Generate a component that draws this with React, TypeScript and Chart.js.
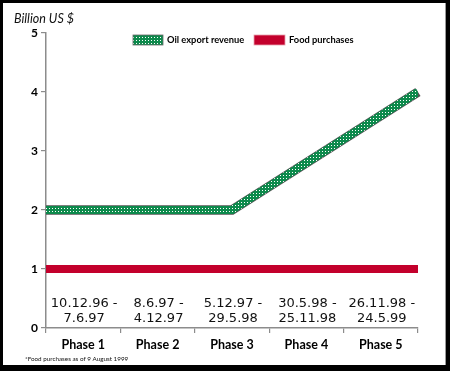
import React, { useEffect, useRef } from "react";
import { Chart, registerables } from "chart.js";

Chart.register(...registerables);

// ---- data ----
const phases = ["Phase 1", "Phase 2", "Phase 3", "Phase 4", "Phase 5"];
const periodStart = ["10.12.96 -", "8.6.97 -", "5.12.97 -", "30.5.98 -", "26.11.98 -"];
const periodEnd = ["7.6.97", "4.12.97", "29.5.98", "25.11.98", "24.5.99"];
const oilX = [0, 2.5, 5];
const oilValues = [2, 2, 4];
const foodX = [0, 5];
const foodValues = [1, 1];
const seriesLabels = ["Oil export revenue", "Food purchases"];
const yAxisTitle = "Billion US $";
const footnote = "*Food purchases as of 9 August 1999";

const GREEN = "#0d8a4c";
const RED = "#c3002c";
const AXIS = "#8c8c8c";

function makePattern(): CanvasPattern | string {
  const c = document.createElement("canvas");
  c.width = 3;
  c.height = 3;
  const g = c.getContext("2d");
  if (!g) return GREEN;
  g.fillStyle = GREEN;
  g.fillRect(0, 0, 3, 3);
  g.fillStyle = "#ffffff";
  g.fillRect(1, 1, 1, 1);
  const ctx = document.createElement("canvas").getContext("2d");
  const p = ctx ? ctx.createPattern(c, "repeat") : null;
  return p || GREEN;
}

export default function App() {
  const ref = useRef<HTMLCanvasElement | null>(null);

  useEffect(() => {
    if (!ref.current) return;
    const pattern = makePattern();

    const framePlugin = {
      id: "frame",
      beforeDraw(chart: any) {
        const ctx = chart.ctx;
        ctx.save();
        ctx.fillStyle = "#000";
        ctx.fillRect(0, 0, chart.width, chart.height);
        ctx.fillStyle = "#fff";
        ctx.fillRect(3, 3, 443, 362);
        ctx.fillStyle = "#9a9a9a";
        ctx.fillRect(445, 3, 1, 362);
        ctx.restore();
      },
      beforeDatasetDraw(chart: any, args: any) {
        if (args.index !== 0) return;
        const pts = args.meta.data;
        const ctx = chart.ctx;
        ctx.save();
        ctx.beginPath();
        pts.forEach((p: any, i: number) => (i ? ctx.lineTo(p.x, p.y) : ctx.moveTo(p.x, p.y)));
        ctx.strokeStyle = "#555555";
        ctx.lineWidth = 9.5;
        ctx.lineCap = "butt";
        ctx.lineJoin = "miter";
        ctx.stroke();
        ctx.restore();
      },
      afterDraw(chart: any) {
        const ctx = chart.ctx;
        const xs = chart.scales.x;
        const ys = chart.scales.y;
        ctx.save();
        // y-axis title
        ctx.fillStyle = "#111";
        ctx.font = "italic 12.5px Lato";
        ctx.textAlign = "left";
        ctx.textBaseline = "alphabetic";
        ctx.fillText(yAxisTitle, 14, 23);

        // period labels
        ctx.font = "13px 'DejaVu Sans'";
        ctx.textAlign = "center";
        const y0 = ys.getPixelForValue(0);
        for (let i = 0; i < phases.length; i++) {
          const x = xs.getPixelForValue(i + 0.5);
          ctx.fillText(periodStart[i], x + 1, y0 - 21);
          ctx.fillText(periodEnd[i], x + 1, y0 - 6);
        }

        // legend
        const ly = 35;
        ctx.fillStyle = pattern as any;
        ctx.fillRect(133, ly, 30, 10);
        ctx.strokeStyle = "#6a6a6a";
        ctx.lineWidth = 0.8;
        ctx.strokeRect(133, ly, 30, 10);
        ctx.fillStyle = RED;
        ctx.fillRect(254, ly, 31, 10);
        ctx.strokeStyle = "#e8a0ae";
        ctx.strokeRect(254, ly, 31, 10);
        ctx.fillStyle = "#000";
        ctx.font = "bold 9.3px Lato";
        ctx.textAlign = "left";
        ctx.textBaseline = "middle";
        ctx.fillText(seriesLabels[0], 167, ly + 5);
        ctx.fillText(seriesLabels[1], 289, ly + 5);

        // footnote
        ctx.fillStyle = "#111";
        ctx.font = "6.3px Lato";
        ctx.textBaseline = "alphabetic";
        ctx.fillText(footnote, 25, 361);
        ctx.restore();
      },
    };

    const chart = new Chart(ref.current, {
      type: "line",
      data: {
        datasets: [
          {
            label: seriesLabels[0],
            data: oilX.map((x, i) => ({ x, y: oilValues[i] })),
            borderColor: pattern as any,
            borderWidth: 8,
            borderCapStyle: "butt",
            borderJoinStyle: "miter",
            pointRadius: 0,
            tension: 0,
          },
          {
            label: seriesLabels[1],
            data: foodX.map((x, i) => ({ x, y: foodValues[i] })),
            borderColor: RED,
            borderWidth: 8,
            borderCapStyle: "butt",
            pointRadius: 0,
            tension: 0,
          },
        ],
      },
      options: {
        responsive: false,
        animation: false,
        layout: { padding: { left: 0, top: 33, right: 32, bottom: 0 } },
        plugins: {
          legend: { display: false },
          tooltip: { enabled: false },
          title: { display: false },
        },
        scales: {
          x: {
            type: "linear",
            min: 0,
            max: 5,
            afterFit(scale: any) {
              scale.height = 43;
            },
            ticks: {
              stepSize: 0.5,
              autoSkip: false,
              maxRotation: 0,
              padding: 4,
              color: "#000",
              font: { family: "Lato", weight: "bold", size: 12.5 },
              callback: (v: any) => {
                const n = Number(v);
                return Number.isInteger(n) ? "" : phases[Math.floor(n)];
              },
            },
            grid: {
              drawOnChartArea: false,
              drawTicks: true,
              tickLength: 5,
              color: (c: any) =>
                c.tick && Number.isInteger(c.tick.value) ? AXIS : "rgba(0,0,0,0)",
              lineWidth: 1.2,
            },
            border: { display: true, color: AXIS, width: 1.5 },
          },
          y: {
            min: 0,
            max: 5,
            afterFit(scale: any) {
              scale.width = 46;
            },
            ticks: {
              stepSize: 1,
              padding: 3,
              color: "#000",
              font: { family: "Lato", weight: "bold", size: 12 },
            },
            grid: {
              drawOnChartArea: false,
              drawTicks: true,
              tickLength: 5,
              color: AXIS,
              lineWidth: 1.2,
            },
            border: { display: true, color: AXIS, width: 1.5 },
          },
        },
      },
      plugins: [framePlugin],
    } as any);

    return () => chart.destroy();
  }, []);

  return (
    <div style={{ position: "fixed", left: 0, top: 0, width: 450, height: 371 }}>
      <canvas ref={ref} width={450} height={371} style={{ display: "block" }} />
    </div>
  );
}
